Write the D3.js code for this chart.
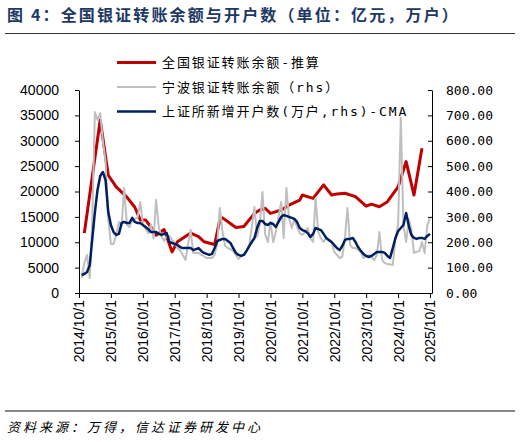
<!DOCTYPE html>
<html><head><meta charset="utf-8">
<script src="https://cdn.jsdelivr.net/npm/d3@7"></script>
<style>body{margin:0;background:#fff}</style>
</head><body>
<svg id="chart" width="521" height="442"></svg>
<script>
const titleText = "图 4：全国银证转账余额与开户数（单位：亿元，万户）";
const sourceText = "资料来源：万得，信达证券研发中心";
const legendLabels = ["全国银证转账余额-推算", "宁波银证转账余额（rhs）", "上证所新增开户数(万户,rhs)-CMA"];
const seriesColors = ["#C00000", "#BFBFBF", "#002060"];
const xTickLabels = ["2014/10/1","2015/10/1","2016/10/1","2017/10/1","2018/10/1","2019/10/1","2020/10/1","2021/10/1","2022/10/1","2023/10/1","2024/10/1","2025/10/1"];
const leftTicks = [0,5000,10000,15000,20000,25000,30000,35000,40000];
const rightTicks = [0,100,200,300,400,500,600,700,800];

// 全国银证转账余额-推算 (left axis, 亿元)
const redMonths = ["2014-12","2015-06","2015-09","2015-12","2016-04","2016-07","2016-09","2016-11","2017-01","2017-03","2017-06","2017-09","2017-11","2018-04","2018-07","2018-09","2019-01","2019-03","2019-04","2019-09","2019-12","2020-04","2020-06","2020-08","2020-10","2021-02","2021-05","2021-09","2021-10","2022-02","2022-06","2022-09","2022-11","2023-02","2023-06","2023-10","2023-12","2024-03","2024-06","2024-10","2025-01","2025-04","2025-07"];
const redValues = [11800,34100,23200,20900,18900,16900,14400,14400,13000,11400,12500,8100,10100,11800,11100,10100,9550,14400,14800,12900,13100,15700,16350,16700,15700,16350,17300,18300,19300,18650,21300,19300,19500,19650,19000,17100,17500,17000,18000,20900,25900,19300,28500];

// monthly series, starting 2014-11 (right axis)
const monthlyStart = "2014-11";
const grayValues = [59,120,150,59,280,713,682,709,600,520,
290,193,193,230,280,264,414,270,260,288,
292,296,359,272,252,236,270,215,367,260,
225,205,225,225,209,197,177,169,150,130,
190,248,158,158,158,150,145,138,138,138,
150,200,335,240,185,177,173,165,150,134,
146,154,165,189,260,339,221,272,398,230,
201,280,201,240,300,359,217,414,296,256,
290,260,236,229,240,256,215,201,374,240,
217,201,217,205,201,162,150,138,142,220,
335,190,177,177,170,162,138,142,150,142,
130,150,240,130,118,114,112,110,217,268,
690,268,201,290,250,158,162,165,201,158,
268,295];
const blueValues = [71,75,83,110,209,319,406,461,477,445,
319,268,240,229,233,276,280,276,276,296,
280,276,276,268,260,252,240,240,240,233,
229,233,236,201,197,193,189,181,177,177,
177,177,169,173,177,166,158,154,150,154,
177,205,209,213,213,205,197,177,158,150,
146,150,166,185,201,217,256,284,284,272,
268,276,272,260,280,300,307,304,300,296,
292,280,256,248,244,236,221,233,256,252,
248,233,217,209,201,189,177,169,185,209,
213,213,217,201,181,166,154,146,142,146,
154,162,162,162,158,146,138,177,217,244,
256,268,315,264,229,217,213,217,217,213,
225,233];

const svg = d3.select("#chart");
const M = {l:79, r:432, t:90, b:293};
const parseM = d3.utcParse("%Y-%m");
const parseT = d3.utcParse("%Y/%m/%d");
const start = parseM(monthlyStart);
const monthly = arr => arr.map((v,i)=>({d:d3.utcMonth.offset(start,i), v}));
const redData = redMonths.map((m,i)=>({d:parseM(m), v:redValues[i]}));
const grayData = monthly(grayValues);
const blueData = monthly(blueValues);

const x = d3.scaleUtc().domain([parseT("2014/10/1"), d3.utcDay.offset(parseT("2025/10/1"), 23)]).range([M.l, M.r]);
const yL = d3.scaleLinear().domain([0,40000]).range([M.b, M.t]);
const yR = d3.scaleLinear().domain([0,800]).range([M.b, M.t]);

// title
svg.append("text").attr("x",7).attr("y",21).text(titleText)
  .attr("font-family","'Noto Sans CJK SC'").attr("font-weight","bold").attr("font-size",16)
  .attr("letter-spacing","2.15px").attr("fill","#203864");
svg.append("line").attr("x1",5).attr("x2",515).attr("y1",33.5).attr("y2",33.5).attr("stroke","#333").attr("stroke-width",1);

// axes
const fontNum = "'Liberation Sans', Arial, sans-serif";
const gL = svg.append("g").attr("transform",`translate(${M.l},0)`)
  .call(d3.axisLeft(yL).tickValues(leftTicks).tickSize(4).tickSizeOuter(0).tickPadding(16).tickFormat(d=>d));
gL.selectAll("text").attr("font-family",fontNum).attr("font-size",14).attr("fill","#000");
const gR = svg.append("g").attr("transform",`translate(${M.r},0)`)
  .call(d3.axisRight(yR).tickValues(rightTicks).tickSize(-4).tickSizeOuter(0).tickPadding(14).tickFormat(d3.format(".2f")));
gR.selectAll("text").attr("font-family","'DejaVu Sans Mono', monospace").attr("font-size",13).attr("fill","#000");
const gX = svg.append("g").attr("transform",`translate(0,${M.b})`)
  .call(d3.axisBottom(x).tickValues(xTickLabels.map(parseT)).tickSize(5).tickSizeOuter(0).tickFormat((d,i)=>xTickLabels[i]));
gX.selectAll("text").attr("font-family",fontNum).attr("font-size",14).attr("fill","#000")
  .attr("transform","rotate(-90)").attr("x",-7).attr("y",0).attr("dy","0.35em").attr("text-anchor","end");
[gL,gR,gX].forEach(g=>{g.selectAll("path,line").attr("stroke","#000").attr("stroke-width",1);});

// lines
const lineL = d3.line().x(d=>x(d.d)).y(d=>yL(d.v));
const lineR = d3.line().x(d=>x(d.d)).y(d=>yR(d.v));
svg.append("path").datum(redData).attr("d",lineL).attr("fill","none").attr("stroke",seriesColors[0]).attr("stroke-width",3).attr("stroke-linejoin","round");
svg.append("path").datum(grayData).attr("d",lineR).attr("fill","none").attr("stroke",seriesColors[1]).attr("stroke-width",2).attr("stroke-linejoin","round");
svg.append("path").datum(blueData).attr("d",lineR).attr("fill","none").attr("stroke",seriesColors[2]).attr("stroke-width",2.5).attr("stroke-linejoin","round");

// legend
legendLabels.forEach((lab,i)=>{
  const yy = 62.5 + i*24.5;
  svg.append("line").attr("x1",117).attr("x2",156).attr("y1",yy).attr("y2",yy)
    .attr("stroke",seriesColors[i]).attr("stroke-width",i===0?3:(i===1?2:2.5));
  svg.append("text").attr("x",162).attr("y",yy).attr("dy","0.35em").text(lab)
    .attr("font-family","'DejaVu Sans Mono','Noto Sans CJK SC'").attr("font-size",13)
    .attr("letter-spacing","1.9px").attr("fill","#000");
});

// source
svg.append("line").attr("x1",5).attr("x2",515).attr("y1",411).attr("y2",411).attr("stroke","#888").attr("stroke-width",2);
svg.append("text").attr("x",7).attr("y",432).text(sourceText)
  .attr("font-family","'Noto Sans CJK SC'").attr("font-style","italic").attr("font-size",13)
  .attr("letter-spacing","3px").attr("fill","#000");
</script>
</body></html>
